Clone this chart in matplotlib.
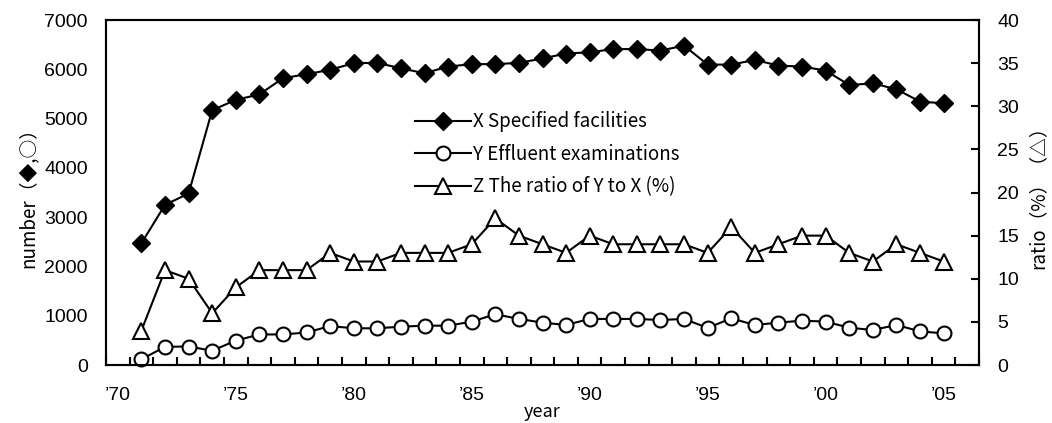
import numpy as np
import matplotlib.pyplot as plt

years = list(range(1971, 2006))
facilities = [2470, 3250, 3480, 5170, 5380, 5490, 5820, 5900, 5990, 6125,
              6130, 6020, 5920, 6055, 6105, 6105, 6130, 6220, 6320, 6345,
              6410, 6410, 6380, 6480, 6095, 6095, 6190, 6075, 6055, 5975,
              5680, 5715, 5595, 5345, 5310]
effluent = [115, 370, 375, 290, 495, 620, 620, 660, 790, 745,
            745, 778, 798, 798, 880, 1030, 935, 860, 812, 935,
            935, 935, 913, 935, 752, 947, 812, 860, 900, 880,
            757, 710, 812, 683, 642]
ratio = [4, 11, 10, 6, 9, 11, 11, 11, 13, 12,
         12, 13, 13, 13, 14, 17, 15, 14, 13, 15,
         14, 14, 14, 14, 13, 16, 13, 14, 15, 15,
         13, 12, 14, 13, 12]

label_years = list(range(1970, 2006, 5))
label_text = ["’%02d" % (y % 100) for y in label_years]

jp = ['Noto Sans CJK JP', 'DejaVu Sans']
tickfont = 'Liberation Sans'

fig = plt.figure(figsize=(10.52, 4.23), dpi=100)
ax1 = fig.add_axes([0.1008, 0.1371, 0.8298, 0.8156])
ax2 = ax1.twinx()

lw = 1.5
l1, = ax1.plot(years, facilities, color='black', lw=lw, marker='D', ms=9,
               mfc='black', mec='black', clip_on=False, zorder=3)
l2, = ax1.plot(years, effluent, color='black', lw=lw, marker='o', ms=10,
               mfc='white', mec='black', mew=1.5, clip_on=False, zorder=3)
l3, = ax2.plot(years, ratio, color='black', lw=lw, marker='^', ms=11,
               mfc='white', mec='black', mew=1.5, clip_on=False, zorder=3)

ax1.set_xlim(1969.5, 2006.5)
ax1.set_ylim(0, 7000)
ax2.set_ylim(0, 40)

ax1.set_xticks(label_years)
ax1.set_xticklabels(label_text, fontfamily=tickfont, fontsize=14)
ax1.set_xticks(np.arange(1969.5, 2007, 1), minor=True)
ax1.tick_params(axis='x', which='major', length=0, pad=16)
ax1.tick_params(axis='x', which='minor', direction='in', length=6, width=1.5)

ax1.set_yticks(range(0, 7001, 1000))
ax1.set_yticklabels([str(v) for v in range(0, 7001, 1000)],
                    fontfamily=tickfont, fontsize=14)
ax1.tick_params(axis='y', length=0, pad=13)

ax2.set_yticks(range(0, 41, 5))
ax2.set_yticklabels([str(v) for v in range(0, 41, 5)],
                    fontfamily=tickfont, fontsize=14)
ax2.tick_params(axis='y', direction='in', length=6, width=1.5, pad=13)

for a in (ax1, ax2):
    for s in a.spines.values():
        s.set_linewidth(1.5)

ax1.set_xlabel('year', family=jp, fontsize=13, labelpad=-1)
ax1.set_ylabel('number（◆,○）', family=jp, fontsize=13.5, labelpad=4)
ax2.set_ylabel('ratio（%）（△）', family=jp, fontsize=13.5, labelpad=6)

leg = ax2.legend([l1, l2, l3],
                 ['X Specified facilities', 'Y Effluent examinations',
                  'Z The ratio of Y to X (%)'],
                 loc='upper left', bbox_to_anchor=(0.387, 0.755),
                 bbox_transform=fig.transFigure, frameon=False,
                 prop={'family': jp, 'size': 13.5}, handlelength=3.0,
                 handletextpad=0.1, labelspacing=0.62, borderaxespad=0)

fig.savefig('out.png', dpi=100)
